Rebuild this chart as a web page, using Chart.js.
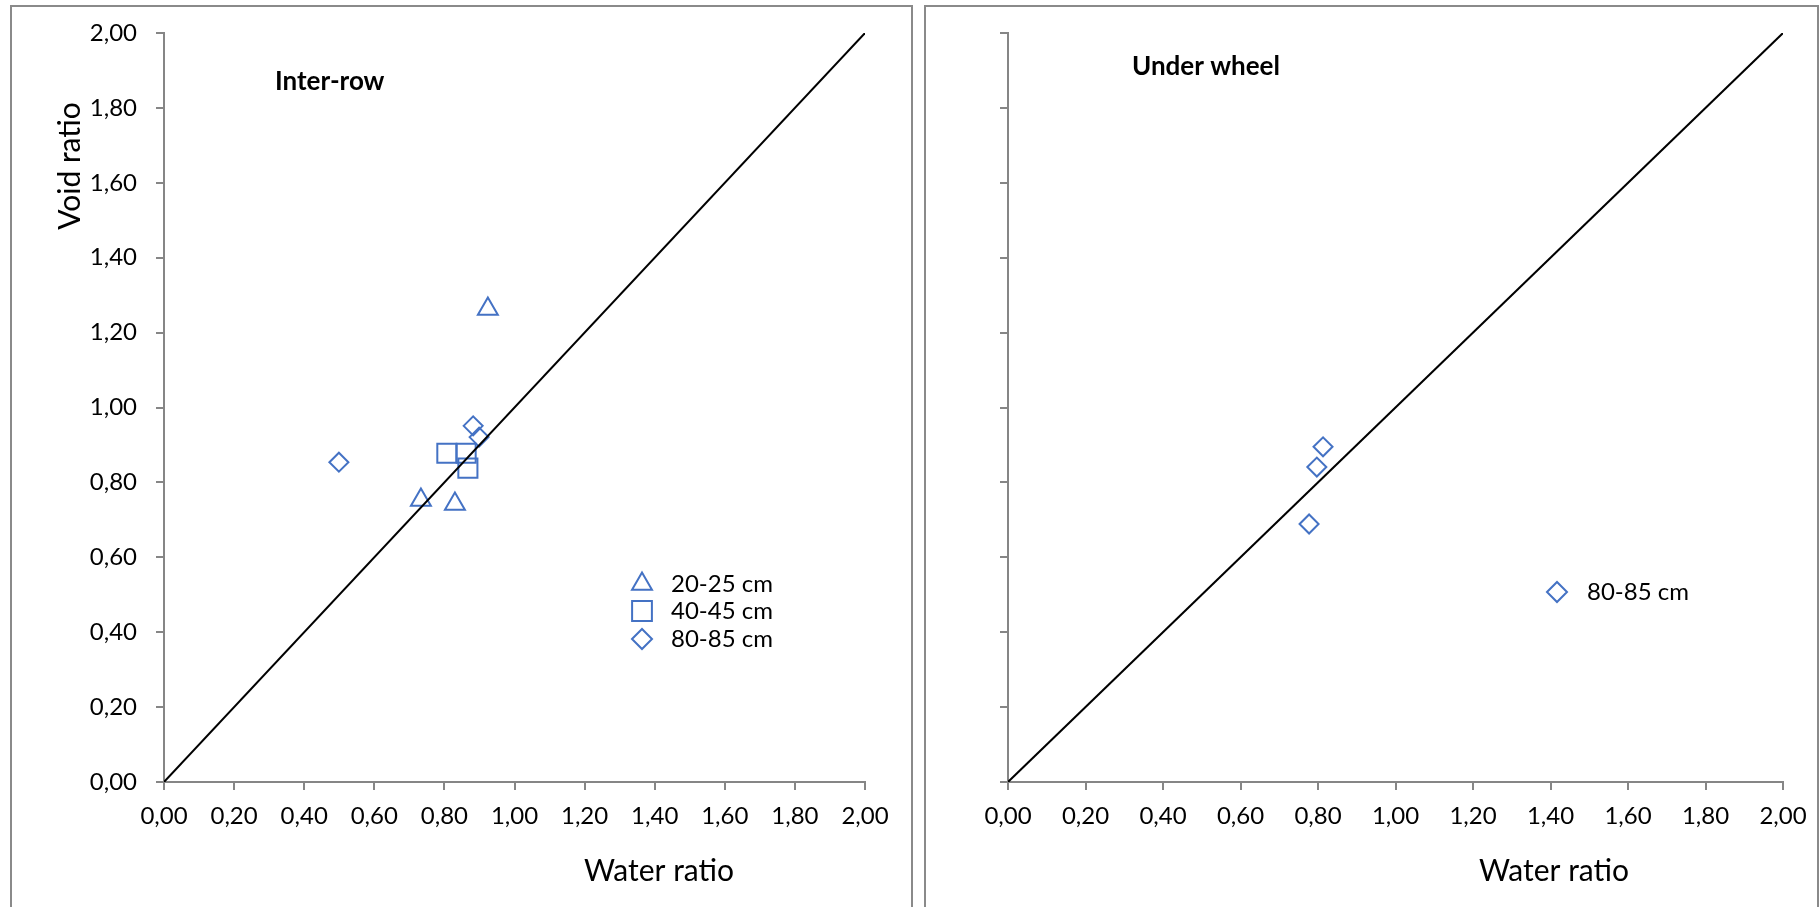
<!DOCTYPE html>
<html>
<head>
<meta charset="utf-8">
<script src="https://cdn.jsdelivr.net/npm/chart.js@4.4.1/dist/chart.umd.min.js"></script>
<style>
  body { margin: 0; background: #fff; width: 1820px; height: 907px; overflow: hidden; position: relative; }
  .panel { position: absolute; top: 5px; height: 960px; border: 2px solid #8a8a8a; box-sizing: border-box; }
  canvas { position: absolute; }
</style>
</head>
<body>
<div class="panel" style="left:10px; width:903px;"></div>
<div class="panel" style="left:924px; width:895px;"></div>
<canvas id="left" width="899" height="900" style="left:12px; top:7px;"></canvas>
<canvas id="right" width="891" height="900" style="left:926px; top:7px;"></canvas>
<script>
// depth classes, inter-row
var tri20X = [0.924, 0.733, 0.830];
var tri20Y = [1.263, 0.753, 0.742];
var sq40X = [0.807, 0.862, 0.867];
var sq40Y = [0.878, 0.878, 0.838];
var dia80X = [0.499, 0.882, 0.899];
var dia80Y = [0.854, 0.951, 0.921];
// under wheel
var wheelX = [0.813, 0.797, 0.777];
var wheelY = [0.895, 0.841, 0.689];
// 1:1 line
var lineX = [0, 2];
var lineY = [0, 2];
var tickLabels = ['0,00', '0,20', '0,40', '0,60', '0,80', '1,00', '1,20', '1,40', '1,60', '1,80', '2,00'];

var blue = '#4472C4';
var axisGrey = '#868686';
var font = 'Lato';

function pts(xs, ys) {
	return xs.map(function (x, i) { return {x: x, y: ys[i]}; });
}

function markerSet(label, xs, ys, style, r) {
	return {
		label: label,
		data: pts(xs, ys),
		pointStyle: style,
		pointRadius: r,
		pointBorderColor: blue,
		pointBackgroundColor: 'rgba(0,0,0,0)',
		pointBorderWidth: 2,
		showLine: false
	};
}

function diagonal() {
	return {
		label: '1:1',
		data: pts(lineX, lineY),
		showLine: true,
		borderColor: '#000',
		borderWidth: 2,
		pointRadius: 0,
		fill: false
	};
}

// draws panel label, axis titles and the small legend
var annotate = {
	id: 'annotate',
	afterDraw: function (chart, args, opts) {
		var ctx = chart.ctx;
		ctx.save();
		ctx.fillStyle = '#000';
		(opts.texts || []).forEach(function (t) {
			ctx.save();
			ctx.font = (t.bold ? 'bold ' : '') + t.size + 'px ' + font;
			ctx.textAlign = t.align || 'left';
			ctx.textBaseline = 'middle';
			ctx.translate(t.x, t.y);
			if (t.rot) ctx.rotate(t.rot);
			ctx.fillText(t.text, 0, 0);
			ctx.restore();
		});
		(opts.legend || []).forEach(function (l) {
			ctx.strokeStyle = blue;
			ctx.fillStyle = 'rgba(0,0,0,0)';
			ctx.lineWidth = 2;
			Chart.helpers.drawPoint(ctx, {pointStyle: l.style, radius: l.r, rotation: 0, borderWidth: 2}, l.x, l.y);
			ctx.fillStyle = '#000';
			ctx.font = '24px ' + font;
			ctx.textAlign = 'left';
			ctx.textBaseline = 'middle';
			ctx.fillText(l.text, l.tx, l.y);
		});
		ctx.restore();
	}
};

function makeScales(yWidth, showYLabels) {
	var grid = {display: true, drawOnChartArea: false, drawTicks: true, tickLength: 8, color: axisGrey, lineWidth: 2};
	return {
		x: {
			type: 'linear', min: 0, max: 2,
			border: {display: true, color: axisGrey, width: 2},
			grid: grid,
			ticks: {
				stepSize: 0.2, padding: 12, color: '#000', font: {family: font, size: 24},
				maxRotation: 0, autoSkip: false,
				callback: function (v, i) { return tickLabels[i]; }
			},
			afterFit: function (s) { s.height = 125; s.paddingLeft = 0; s.paddingRight = 0; }
		},
		y: {
			type: 'linear', min: 0, max: 2,
			border: {display: true, color: axisGrey, width: 2},
			grid: grid,
			ticks: {
				stepSize: 0.2, padding: 19, color: '#000', font: {family: font, size: 24},
				autoSkip: false,
				callback: function (v, i) { return showYLabels ? tickLabels[i] : ''; }
			},
			afterFit: function (s) { s.width = yWidth; s.paddingTop = 0; s.paddingBottom = 0; }
		}
	};
}

new Chart(document.getElementById('left'), {
	type: 'scatter',
	data: {
		datasets: [
			diagonal(),
			markerSet('20-25 cm', tri20X, tri20Y, 'triangle', 11.5),
			markerSet('40-45 cm', sq40X, sq40Y, 'rect', 13.5),
			markerSet('80-85 cm', dia80X, dia80Y, 'rectRot', 9.5)
		]
	},
	options: {
		responsive: false,
		animation: false,
		devicePixelRatio: 1,
		layout: {padding: {left: 0, top: 26, right: 46, bottom: 0}},
		scales: makeScales(152, true),
		plugins: {
			legend: {display: false},
			tooltip: {enabled: false},
			annotate: {
				texts: [
					{text: 'Inter-row', x: 263, y: 75, size: 26, bold: true},
					{text: 'Water ratio', x: 647, y: 864, size: 30, align: 'center'},
					{text: 'Void ratio', x: 58, y: 159, size: 30, align: 'center', rot: -Math.PI / 2}
				],
				legend: [
					{style: 'triangle', r: 11.5, x: 630, y: 577, tx: 659, text: '20-25 cm'},
					{style: 'rect', r: 14, x: 630, y: 604, tx: 659, text: '40-45 cm'},
					{style: 'rectRot', r: 10, x: 630, y: 632, tx: 659, text: '80-85 cm'}
				]
			}
		}
	},
	plugins: [annotate]
});

new Chart(document.getElementById('right'), {
	type: 'scatter',
	data: {
		datasets: [
			diagonal(),
			markerSet('80-85 cm', wheelX, wheelY, 'rectRot', 9.5)
		]
	},
	options: {
		responsive: false,
		animation: false,
		devicePixelRatio: 1,
		layout: {padding: {left: 0, top: 26, right: 34, bottom: 0}},
		scales: makeScales(82, false),
		plugins: {
			legend: {display: false},
			tooltip: {enabled: false},
			annotate: {
				texts: [
					{text: 'Under wheel', x: 206, y: 60, size: 26, bold: true},
					{text: 'Water ratio', x: 628, y: 864, size: 30, align: 'center'}
				],
				legend: [
					{style: 'rectRot', r: 10, x: 631, y: 585, tx: 661, text: '80-85 cm'}
				]
			}
		}
	},
	plugins: [annotate]
});
</script>
</body>
</html>
